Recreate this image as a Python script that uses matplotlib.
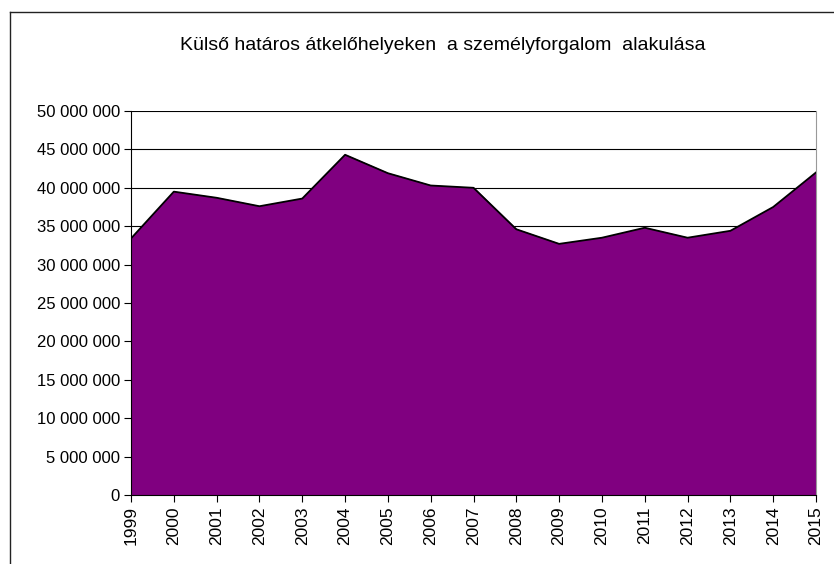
import numpy as np
import matplotlib.pyplot as plt
from matplotlib.lines import Line2D
from matplotlib.ticker import FuncFormatter

plt.rcParams['font.family'] = ['Liberation Sans', 'DejaVu Sans']

years = [1999, 2000, 2001, 2002, 2003, 2004, 2005, 2006, 2007,
         2008, 2009, 2010, 2011, 2012, 2013, 2014, 2015]
traffic = [33.4, 39.5, 38.7, 37.6, 38.6, 44.3, 41.9, 40.3, 40.0,
           34.6, 32.7, 33.5, 34.8, 33.5, 34.4, 37.5, 42.0]
traffic = np.array(traffic) * 1e6
title = "Külső határos átkelőhelyeken  a személyforgalom  alakulása"

fig = plt.figure(figsize=(8.34, 5.64), dpi=100)
ax = fig.add_axes([131/834, 69/564, 685/834, 384/564])

ax.fill_between(years, traffic, 0, color='#800080', zorder=2)
ax.plot(years, traffic, color='black', lw=1.3, zorder=3)

ax.set_xlim(1999, 2015)
ax.set_ylim(0, 50e6)
ax.set_xticks(years)
ax.set_xticklabels([str(y) for y in years], rotation=90, fontsize=12.5)
ax.set_yticks(np.arange(0, 50e6 + 1, 5e6))
ax.yaxis.set_major_formatter(FuncFormatter(lambda v, p: f"{int(v):,}".replace(",", " ")))
ax.tick_params(axis='y', labelsize=12, length=5, width=0.8, pad=3)
ax.tick_params(axis='x', length=5, width=0.8, pad=3)
ax.grid(axis='y', color='black', lw=0.8, zorder=1)
ax.set_axisbelow(True)

ax.spines['top'].set_visible(False)
ax.spines['right'].set_color('#999999')
ax.spines['left'].set_color('black')
ax.spines['bottom'].set_color('black')
for s in ax.spines.values():
    s.set_zorder(4)

fig.text(443/834, 1 - 45/564, title, ha='center', va='center', fontsize=14)

# chart frame
fig.add_artist(Line2D([9.5/834, 9.5/834], [0, 1 - 11.5/564], color='#222222', lw=1))
fig.add_artist(Line2D([9.5/834, 1], [1 - 11.5/564, 1 - 11.5/564], color='#222222', lw=1))

fig.savefig("out.png", dpi=100)
